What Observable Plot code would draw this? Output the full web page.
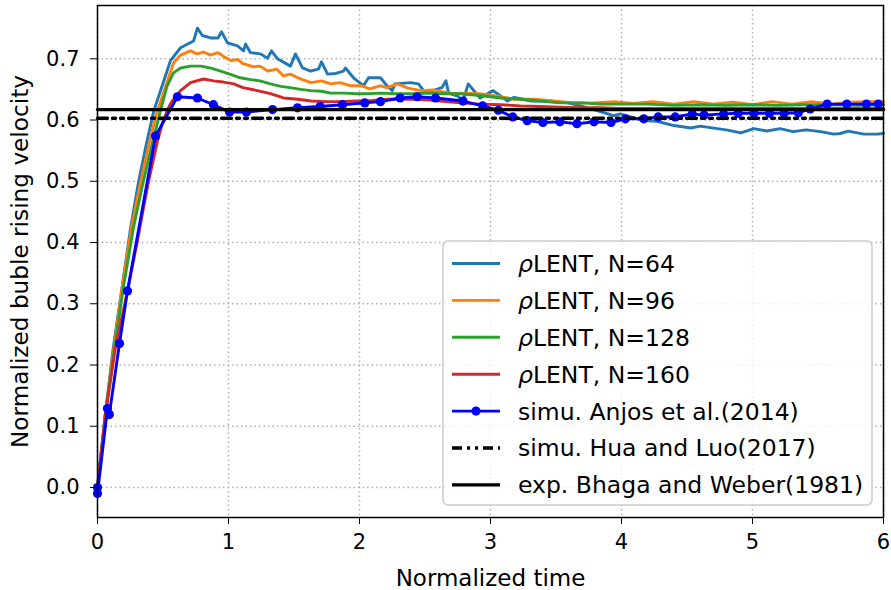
<!DOCTYPE html>
<html><head><meta charset="utf-8">
<script src="https://cdn.jsdelivr.net/npm/d3@7"></script>
<script src="https://cdn.jsdelivr.net/npm/@observablehq/plot@0.6"></script>
<style>body{margin:0;background:#fff;} #chart{width:891px;height:590px;}</style>
</head><body><div id="chart"></div>
<script>
// ---- data ----
const t64 = [0,0.06,0.12,0.19,0.25,0.31,0.37,0.43,0.50,0.557,0.634,0.733,0.763,0.80,0.863,0.92,0.947,0.992,1.069,1.115,1.13,1.168,1.244,1.298,1.328,1.374,1.473,1.511,1.565,1.626,1.687,1.71,1.756,1.82,1.878,1.893,1.954,2.03,2.069,2.16,2.21,2.25,2.27,2.39,2.45,2.49,2.56,2.63,2.66,2.68,2.75,2.79,2.83,2.92,3.02,3.13,3.18,3.31,3.44,3.59,3.69,3.82,3.94,3.99,4.09,4.17,4.27,4.40,4.53,4.60,4.73,4.80,4.91,5.01,5.11,5.21,5.31,5.41,5.52,5.62,5.67,5.73,5.85,5.95,6.0];
const v64 = [0,0.12,0.228,0.33,0.42,0.495,0.558,0.615,0.66,0.697,0.718,0.729,0.750,0.738,0.734,0.734,0.744,0.726,0.721,0.713,0.724,0.710,0.708,0.701,0.713,0.700,0.688,0.708,0.685,0.680,0.683,0.695,0.675,0.676,0.680,0.685,0.669,0.656,0.669,0.669,0.656,0.648,0.659,0.661,0.659,0.648,0.648,0.653,0.664,0.644,0.639,0.631,0.659,0.636,0.648,0.631,0.637,0.631,0.631,0.628,0.623,0.615,0.607,0.610,0.604,0.599,0.598,0.591,0.587,0.590,0.586,0.584,0.579,0.586,0.582,0.586,0.581,0.584,0.581,0.577,0.578,0.582,0.577,0.577,0.578];

const t96 = [0,0.06,0.125,0.19,0.26,0.33,0.40,0.45,0.52,0.58,0.634,0.71,0.76,0.81,0.86,0.92,0.97,1.02,1.07,1.11,1.19,1.24,1.30,1.37,1.42,1.47,1.55,1.63,1.71,1.78,1.85,1.93,2.01,2.08,2.16,2.21,2.29,2.37,2.47,2.56,2.64,2.72,2.77,2.92,3.05,3.18,3.33,3.48,3.63,3.79,3.94,4.09,4.24,4.40,4.55,4.70,4.85,5.0,5.15,5.30,5.45,5.60,5.75,5.90,6.0];
const v96 = [0,0.12,0.228,0.33,0.425,0.50,0.567,0.61,0.655,0.693,0.706,0.713,0.708,0.711,0.706,0.710,0.703,0.697,0.699,0.692,0.687,0.688,0.680,0.683,0.672,0.675,0.667,0.661,0.664,0.659,0.661,0.656,0.656,0.651,0.656,0.653,0.659,0.652,0.648,0.649,0.646,0.643,0.644,0.643,0.639,0.634,0.634,0.631,0.628,0.628,0.630,0.627,0.630,0.626,0.630,0.626,0.629,0.625,0.630,0.626,0.630,0.626,0.629,0.630,0.630];

const t128 = [0,0.06,0.13,0.20,0.275,0.35,0.405,0.48,0.53,0.58,0.634,0.71,0.79,0.86,0.94,1.02,1.09,1.17,1.24,1.32,1.40,1.47,1.55,1.63,1.71,1.78,1.88,1.98,2.06,2.16,2.29,2.41,2.53,2.65,2.77,2.92,3.08,3.23,3.38,3.53,3.69,3.84,3.99,4.2,4.4,4.6,4.8,5.0,5.2,5.4,5.6,5.8,6.0];
const v128 = [0,0.12,0.228,0.33,0.425,0.50,0.55,0.615,0.655,0.677,0.685,0.688,0.688,0.685,0.680,0.674,0.669,0.666,0.664,0.659,0.655,0.653,0.650,0.648,0.647,0.644,0.644,0.643,0.643,0.644,0.643,0.643,0.644,0.643,0.643,0.640,0.636,0.634,0.631,0.628,0.628,0.626,0.626,0.626,0.624,0.625,0.624,0.625,0.624,0.625,0.625,0.624,0.625];

const t160 = [0,0.061,0.137,0.229,0.305,0.35,0.39,0.458,0.50,0.542,0.57,0.634,0.71,0.81,0.885,0.96,1.04,1.11,1.22,1.32,1.42,1.53,1.63,1.74,1.855,1.98,2.10,2.21,2.31,2.44,2.56,2.66,2.77,2.92,3.08,3.23,3.38,3.53,3.69,3.84,3.99,4.2,4.4,4.6,4.8,5.0,5.2,5.4,5.6,5.8,6.0];
const v160 = [0,0.12,0.228,0.321,0.403,0.455,0.50,0.566,0.598,0.620,0.631,0.648,0.661,0.667,0.664,0.662,0.659,0.653,0.648,0.643,0.636,0.634,0.631,0.630,0.630,0.631,0.632,0.634,0.634,0.634,0.632,0.630,0.628,0.626,0.625,0.623,0.622,0.621,0.620,0.620,0.619,0.619,0.619,0.619,0.619,0.619,0.619,0.619,0.619,0.619,0.619];

const tAnjos = [0,0,0.076,0.09,0.168,0.229,0.443,0.61,0.763,0.885,1.008,1.137,1.336,1.527,1.70,1.87,2.04,2.16,2.31,2.44,2.58,2.79,2.94,3.06,3.17,3.28,3.40,3.53,3.66,3.79,3.92,4.03,4.17,4.28,4.41,4.54,4.63,4.78,4.89,5.01,5.13,5.24,5.35,5.44,5.57,5.72,5.87,5.96];
const vAnjos = [0,-0.01,0.129,0.119,0.235,0.321,0.574,0.638,0.636,0.625,0.613,0.613,0.617,0.620,0.622,0.625,0.628,0.630,0.636,0.638,0.636,0.631,0.623,0.616,0.605,0.599,0.596,0.597,0.594,0.597,0.596,0.602,0.602,0.605,0.605,0.610,0.608,0.610,0.611,0.611,0.611,0.611,0.612,0.618,0.626,0.626,0.626,0.626];

const tRef = [0, 6];
const vHua = 0.603;
const vBhaga = 0.617;

const xTicks = [0,1,2,3,4,5,6];
const yTicks = [0.0,0.1,0.2,0.3,0.4,0.5,0.6,0.7];

const seriesNames = ["ρLENT, N=64","ρLENT, N=96","ρLENT, N=128","ρLENT, N=160","simu. Anjos et al.(2014)","simu. Hua and Luo(2017)","exp. Bhaga and Weber(1981)"];
const seriesColors = ["#1f77b4","#ff7f0e","#2ca02c","#d62728","#0000ff","#000000","#000000"];

const pairs = (ts, vs) => ts.map((t, i) => ({t, v: vs[i]}));
const s64 = pairs(t64, v64), s96 = pairs(t96, v96), s128 = pairs(t128, v128), s160 = pairs(t160, v160);
const anjos = pairs(tAnjos, vAnjos);
const hua = tRef.map(t => ({t, v: vHua}));
const bhaga = tRef.map(t => ({t, v: vBhaga}));

const huaDash = "10,5,3,5,3,5";
const gridStyle = {stroke: "#b0b0b0", strokeOpacity: 1, strokeWidth: 1.5, strokeDasharray: "1.5,3"};
const lw = 2.9;

const chart = Plot.plot({
  width: 891, height: 590,
  marginLeft: 97, marginRight: 8, marginTop: 5, marginBottom: 73,
  style: {fontFamily: "DejaVu Sans, sans-serif", fontSize: "21px", background: "#fff", color: "#000"},
  x: {domain: [0, 6]},
  y: {domain: [-0.049, 0.787]},
  marks: [
    Plot.gridX(xTicks, gridStyle),
    Plot.gridY(yTicks, gridStyle),
    Plot.line(s64, {x: "t", y: "v", stroke: seriesColors[0], strokeWidth: lw}),
    Plot.line(s96, {x: "t", y: "v", stroke: seriesColors[1], strokeWidth: lw}),
    Plot.line(s128, {x: "t", y: "v", stroke: seriesColors[2], strokeWidth: lw}),
    Plot.line(s160, {x: "t", y: "v", stroke: seriesColors[3], strokeWidth: lw}),
    Plot.line(anjos, {x: "t", y: "v", stroke: seriesColors[4], strokeWidth: lw}),
    Plot.dot(anjos, {x: "t", y: "v", r: 4.6, fill: seriesColors[4], stroke: "none"}),
    Plot.line(hua, {x: "t", y: "v", stroke: "#000", strokeWidth: 3.4, strokeDasharray: huaDash}),
    Plot.line(bhaga, {x: "t", y: "v", stroke: "#000", strokeWidth: 3.4}),
    Plot.axisX(xTicks, {tickSize: 7, tickPadding: 10, tickFormat: d => String(d), label: null, fontSize: 21}),
    Plot.axisY(yTicks, {tickSize: 7, tickPadding: 11, tickFormat: d => d.toFixed(1), label: null, fontSize: 21}),
    Plot.text(["Normalized time"], {frameAnchor: "bottom", dy: 61, fontSize: 23, lineAnchor: "middle", textAnchor: "middle"}),
    Plot.text(["Normalized buble rising velocity"], {frameAnchor: "left", dx: -77, rotate: -90, fontSize: 23.2, lineAnchor: "middle", textAnchor: "middle"}),
    Plot.frame({stroke: "#000", strokeWidth: 1.5})
  ]
});
document.getElementById("chart").appendChild(chart);

// ---- legend (inside the SVG) ----
const svg = d3.select(chart);
const lg = svg.append("g").attr("font-family", "DejaVu Sans, sans-serif").attr("font-size", 23.5).attr("text-anchor", "start");
lg.append("rect").attr("x", 443).attr("y", 241).attr("width", 429).attr("height", 264)
  .attr("rx", 5).attr("fill", "#fff").attr("fill-opacity", 0.8).attr("stroke", "#cccccc").attr("stroke-width", 1.5);
const row0 = 263.5, rowStep = 36.9, hx0 = 452, hx1 = 500, tx = 518;
seriesNames.forEach((name, i) => {
  const y = row0 + i * rowStep;
  const ln = lg.append("line").attr("x1", hx0).attr("x2", hx1).attr("y1", y).attr("y2", y)
    .attr("stroke", seriesColors[i]).attr("stroke-width", i >= 5 ? 3.4 : lw);
  if (i === 5) ln.attr("stroke-dasharray", huaDash);
  if (i === 4) lg.append("circle").attr("cx", (hx0 + hx1) / 2).attr("cy", y).attr("r", 4.6).attr("fill", seriesColors[4]);
  const t = lg.append("text").attr("x", tx).attr("y", y).attr("dy", "0.36em").attr("fill", "#000").attr("text-anchor", "start");
  if (name.startsWith("ρ")) {
    t.append("tspan").attr("font-style", "italic").text("ρ");
    t.append("tspan").text(name.slice(1));
  } else {
    t.text(name);
  }
});
</script>
</body></html>
